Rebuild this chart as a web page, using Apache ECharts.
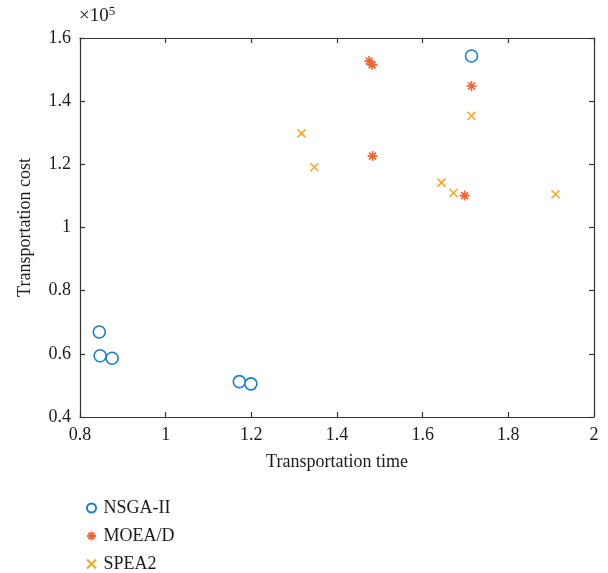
<!DOCTYPE html>
<html>
<head>
<meta charset="utf-8">
<script src="https://cdn.jsdelivr.net/npm/echarts@6/dist/echarts.min.js"></script>
<style>
  html, body { margin: 0; padding: 0; background: #fff; }
  #chart { width: 608px; height: 573px; }
</style>
</head>
<body>
<div id="chart"></div>
<script>
// Transportation time vs. transportation cost (cost in units of 1e5)
const nsga2Time = [1.714, 0.845, 0.847, 0.875, 1.172, 1.199];
const nsga2Cost = [1.543, 0.669, 0.594, 0.586, 0.512, 0.505];

const moeadTime = [1.475, 1.482, 1.714, 1.483, 1.698];
const moeadCost = [1.527, 1.515, 1.448, 1.226, 1.101];

const spea2Time = [1.317, 1.347, 1.714, 1.644, 1.672, 1.910];
const spea2Cost = [1.298, 1.191, 1.354, 1.142, 1.109, 1.105];

const seriesNames = ['NSGA-II', 'MOEA/D', 'SPEA2'];
const xTicks = [0.8, 1, 1.2, 1.4, 1.6, 1.8, 2];
const yTicks = [0.4, 0.6, 0.8, 1, 1.2, 1.4, 1.6];

const FONT = '"Liberation Serif", "DejaVu Serif", serif';
const TEXT = '#1a1a1a';
const AXIS = '#333333';

const zip = (xs, ys) => xs.map((x, i) => [x, ys[i]]);

const asterisk = 'path://M0,-10L0,10M-10,0L10,0M-7,-7L7,7M-7,7L7,-7';
const cross = 'path://M-10,-10L10,10M-10,10L10,-10';

const fmt = v => {
  const hit = yTicks.concat(xTicks).find(t => Math.abs(t - v) < 1e-9);
  return hit !== undefined ? String(hit) : '';
};

const baseAxis = {
  type: 'value',
  interval: 0.2,
  axisLine: { show: true, onZero: false, lineStyle: { color: AXIS, width: 1.2 } },
  axisTick: { show: true, inside: true, length: 5, lineStyle: { color: AXIS, width: 1.2 } },
  splitLine: { show: false },
  nameTextStyle: { fontFamily: FONT, fontSize: 18, color: TEXT },
  axisLabel: { fontFamily: FONT, fontSize: 18, color: TEXT, formatter: fmt }
};

const chart = echarts.init(document.getElementById('chart'), null, { renderer: 'canvas' });

chart.setOption({
  animation: false,
  backgroundColor: '#ffffff',
  grid: { left: 80, top: 38, right: 14, bottom: 156, containLabel: false },
  xAxis: [
    Object.assign({}, baseAxis, {
      min: 0.8, max: 2.0, position: 'bottom',
      name: 'Transportation time', nameLocation: 'middle', nameGap: 36,
      axisLabel: Object.assign({}, baseAxis.axisLabel, { margin: 9 })
    }),
    Object.assign({}, baseAxis, {
      min: 0.8, max: 2.0, position: 'top',
      axisLabel: { show: false }
    })
  ],
  yAxis: [
    Object.assign({}, baseAxis, {
      min: 0.4, max: 1.6, position: 'left',
      name: 'Transportation cost', nameLocation: 'middle', nameGap: 46,
      axisLabel: Object.assign({}, baseAxis.axisLabel, { margin: 9 })
    }),
    Object.assign({}, baseAxis, {
      min: 0.4, max: 1.6, position: 'right',
      axisLabel: { show: false }
    })
  ],
  legend: {
    orient: 'vertical',
    left: 81, top: 494, height: 90,
    itemWidth: 10, itemHeight: 9, itemGap: 10,
    textStyle: { fontFamily: FONT, fontSize: 18, color: TEXT, lineHeight: 18, padding: [0, 0, 0, 2] },
    data: seriesNames
  },
  graphic: [{
    type: 'text',
    left: 79, top: 5,
    style: {
      text: '×10{sup|5}',
      fontFamily: FONT,
      fontSize: 19,
      fill: TEXT,
      rich: { sup: { fontFamily: FONT, fontSize: 13, fill: TEXT, verticalAlign: 'top', padding: [0, 0, 9, 0] } }
    }
  }],
  series: [
    {
      name: seriesNames[0], type: 'scatter',
      symbol: 'circle', symbolSize: 12,
      itemStyle: { color: '#ffffff', borderColor: '#1a7fce', borderWidth: 1.6, opacity: 1 },
      data: zip(nsga2Time, nsga2Cost), z: 3
    },
    {
      name: seriesNames[1], type: 'scatter',
      symbol: asterisk, symbolSize: 10,
      itemStyle: { color: 'rgba(0,0,0,0)', borderColor: '#f2622d', borderWidth: 1.6, opacity: 1 },
      data: zip(moeadTime, moeadCost), z: 4
    },
    {
      name: seriesNames[2], type: 'scatter',
      symbol: cross, symbolSize: 8,
      itemStyle: { color: 'rgba(0,0,0,0)', borderColor: '#f7a624', borderWidth: 1.5, opacity: 1 },
      data: zip(spea2Time, spea2Cost), z: 5
    }
  ]
});
</script>
</body>
</html>
